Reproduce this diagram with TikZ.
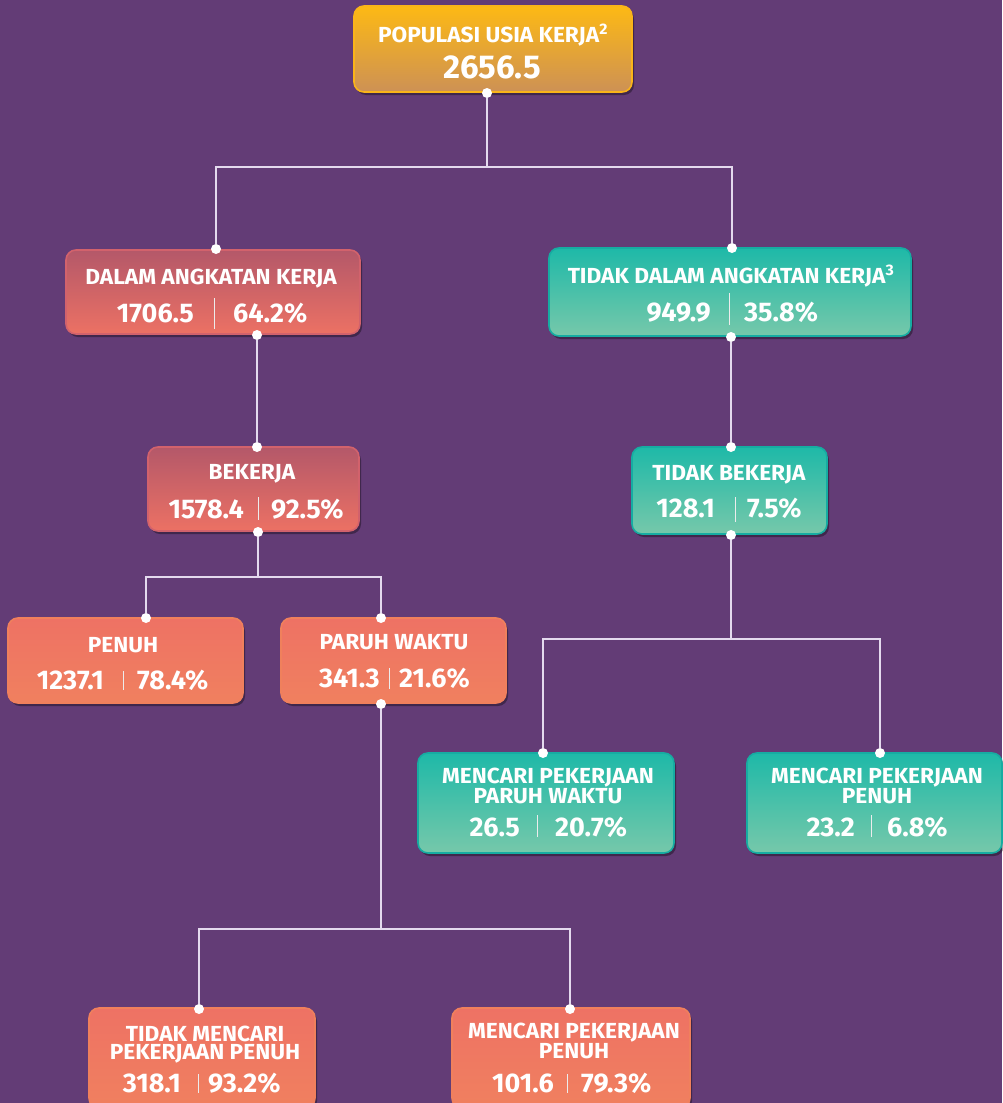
\documentclass[tikz,border=0pt]{standalone}
\usepackage{fontspec}
\setmainfont{Fira Sans}
\newfontfamily\tfont[FakeStretch=1.04]{Fira Sans}
\usetikzlibrary{shadows}
\definecolor{bgc}{RGB}{99,60,118}
\definecolor{goldT}{RGB}{253,185,20}
\definecolor{goldB}{RGB}{205,145,85}
\definecolor{goldD}{RGB}{250,180,25}
\definecolor{redT}{RGB}{180,88,105}
\definecolor{redB}{RGB}{236,113,100}
\definecolor{redD}{RGB}{210,98,108}
\definecolor{tealT}{RGB}{30,185,168}
\definecolor{tealB}{RGB}{118,200,170}
\definecolor{tealD}{RGB}{22,172,162}
\definecolor{corT}{RGB}{238,114,100}
\definecolor{corB}{RGB}{240,128,95}
\definecolor{corD}{RGB}{240,128,92}
\definecolor{linec}{RGB}{228,218,238}
\tikzset{
  boxbase/.style={rounded corners=10pt, line width=1.6pt, inner sep=0pt,
    drop shadow={shadow xshift=2pt, shadow yshift=-3pt, opacity=0.35, fill=black}},
  goldbox/.style={boxbase, draw=goldD, top color=goldT, bottom color=goldB},
  redbox/.style={boxbase, draw=redD, top color=redT, bottom color=redB},
  tealbox/.style={boxbase, draw=tealD, top color=tealT, bottom color=tealB},
  corbox/.style={boxbase, draw=corD, top color=corT, bottom color=corB},
  ttl/.style={anchor=base, text=white, font=\tfont\fontsize{21.8}{17.5}\selectfont\bfseries, inner sep=0pt, align=center},
  numl/.style={anchor=base east, text=white, font=\fontsize{27}{27}\selectfont\bfseries, inner sep=0pt},
  numr/.style={anchor=base west, text=white, font=\fontsize{27}{27}\selectfont\bfseries, inner sep=0pt},
  sepl/.style={draw=white!85!gray, line width=1pt},
  conn/.style={draw=linec, line width=1.2pt},
  dot/.style={circle, fill=white, inner sep=0pt, minimum size=10pt}
}
\begin{document}
\begin{tikzpicture}[x=1pt,y=-1pt]
\useasboundingbox[fill=bgc] (0,0) rectangle (1002,1103);

% boxes
\node[goldbox, minimum width=278, minimum height=86] (pop) at (493,49) {};
\node[redbox, minimum width=294, minimum height=84] (dak) at (213,292) {};
\node[tealbox, minimum width=362, minimum height=88] (tdak) at (730,292) {};
\node[redbox, minimum width=211, minimum height=84] (bek) at (253.5,489) {};
\node[tealbox, minimum width=195, minimum height=87] (tbek) at (729.5,490.5) {};
\node[corbox, minimum width=235, minimum height=85] (pen) at (125.5,660.5) {};
\node[corbox, minimum width=225, minimum height=85] (par) at (393.5,660.5) {};
\node[tealbox, minimum width=256, minimum height=100] (mpw) at (546,803) {};
\node[tealbox, minimum width=255, minimum height=100] (mpp) at (874.5,803) {};
\node[corbox, minimum width=226, minimum height=100] (tmp) at (202,1058) {};
\node[corbox, minimum width=238, minimum height=100] (mpc) at (571,1058) {};

% titles
\node[ttl] (pop-t) at (493,42) {POPULASI USIA KERJA\textsuperscript{2}};
\node[anchor=base, text=white, inner sep=0pt, font=\fontsize{33}{33}\selectfont\bfseries] (pop-n) at (492,78) {2656.5};
\node[ttl] (dak-tt) at (211,284) {DALAM ANGKATAN KERJA};
\node[ttl] (tdak-tt) at (731,283) {TIDAK DALAM ANGKATAN KERJA\textsuperscript{3}};
\node[ttl] (bek-tt) at (252,479) {BEKERJA};
\node[ttl] (tbek-tt) at (729,480) {TIDAK BEKERJA};
\node[ttl] (pen-tt) at (123,652) {PENUH};
\node[ttl] (par-tt) at (394,649) {PARUH WAKTU};
\node[ttl] (mpw-tt) at (548,803) {MENCARI PEKERJAAN\\PARUH WAKTU};
\node[ttl] (mpp-tt) at (877,803) {MENCARI PEKERJAAN\\PENUH};
\node[ttl] (tmp-tt) at (205,1059) {TIDAK MENCARI\\PEKERJAAN PENUH};
\node[ttl] (mpc-tt) at (574,1058) {MENCARI PEKERJAAN\\PENUH};

% numbers
\node[numl] (dak-n) at (194,322) {1706.5};
\node[numr] (dak-p) at (233,322) {64.2\%};
\draw[sepl] (214,298) -- (214,329);
\node[numl] (tdak-n) at (711,321) {949.9};
\node[numr] (tdak-p) at (744,321) {35.8\%};
\draw[sepl] (729,293) -- (729,325);
\node[numl] (bek-n) at (244,518) {1578.4};
\node[numr] (bek-p) at (271,518) {92.5\%};
\draw[sepl] (258,497) -- (258,520);
\node[numl] (tbek-n) at (715,517) {128.1};
\node[numr] (tbek-p) at (747,517) {7.5\%};
\draw[sepl] (735,497) -- (735,522);
\node[numl] (pen-n) at (104,689) {1237.1};
\node[numr] (pen-p) at (137,689) {78.4\%};
\draw[sepl] (123,671) -- (123,690);
\node[numl] (par-n) at (380,687) {341.3};
\node[numr] (par-p) at (399,687) {21.6\%};
\draw[sepl] (389,668) -- (389,689);
\node[numl] (mpw-n) at (520,836) {26.5};
\node[numr] (mpw-p) at (555,836) {20.7\%};
\draw[sepl] (537.5,815) -- (537.5,837);
\node[numl] (mpp-n) at (855,836) {23.2};
\node[numr] (mpp-p) at (887,836) {6.8\%};
\draw[sepl] (871,815) -- (871,837);
\node[numl] (tmp-n) at (181,1092) {318.1};
\node[numr] (tmp-p) at (208,1092) {93.2\%};
\draw[sepl] (198,1074) -- (198,1093);
\node[numl] (mpc-n) at (554,1092) {101.6};
\node[numr] (mpc-p) at (581,1092) {79.3\%};
\draw[sepl] (567,1074) -- (567,1093);

% dots
\node[dot] (pop-b) at (487,93) {};
\node[dot] (dak-t) at (216,249) {};
\node[dot] (dak-b) at (257,335) {};
\node[dot] (tdak-t) at (732,248) {};
\node[dot] (tdak-b) at (731,337) {};
\node[dot] (bek-t) at (257,447) {};
\node[dot] (bek-b) at (258,532) {};
\node[dot] (tbek-t) at (731,447) {};
\node[dot] (tbek-b) at (731,535) {};
\node[dot] (pen-t) at (146,618) {};
\node[dot] (par-t) at (381,618) {};
\node[dot] (par-b) at (381,704) {};
\node[dot] (mpw-t) at (543,753) {};
\node[dot] (mpp-t) at (880,753) {};
\node[dot] (tmp-t) at (199,1009) {};
\node[dot] (mpc-t) at (570,1009) {};

% junctions
\coordinate (j1) at (487,167);
\coordinate (j2) at (258,577);
\coordinate (j3) at (731,639);
\coordinate (j4) at (381,929);

% connectors
\draw[conn] (pop-b) -- (j1);
\draw[conn] (dak-t) |- (j1) -| (tdak-t);
\draw[conn] (dak-b) -- (bek-t);
\draw[conn] (tdak-b) -- (tbek-t);
\draw[conn] (bek-b) -- (j2);
\draw[conn] (pen-t) |- (j2) -| (par-t);
\draw[conn] (tbek-b) -- (j3);
\draw[conn] (mpw-t) |- (j3) -| (mpp-t);
\draw[conn] (par-b) -- (j4);
\draw[conn] (tmp-t) |- (j4) -| (mpc-t);
\end{tikzpicture}
\end{document}
